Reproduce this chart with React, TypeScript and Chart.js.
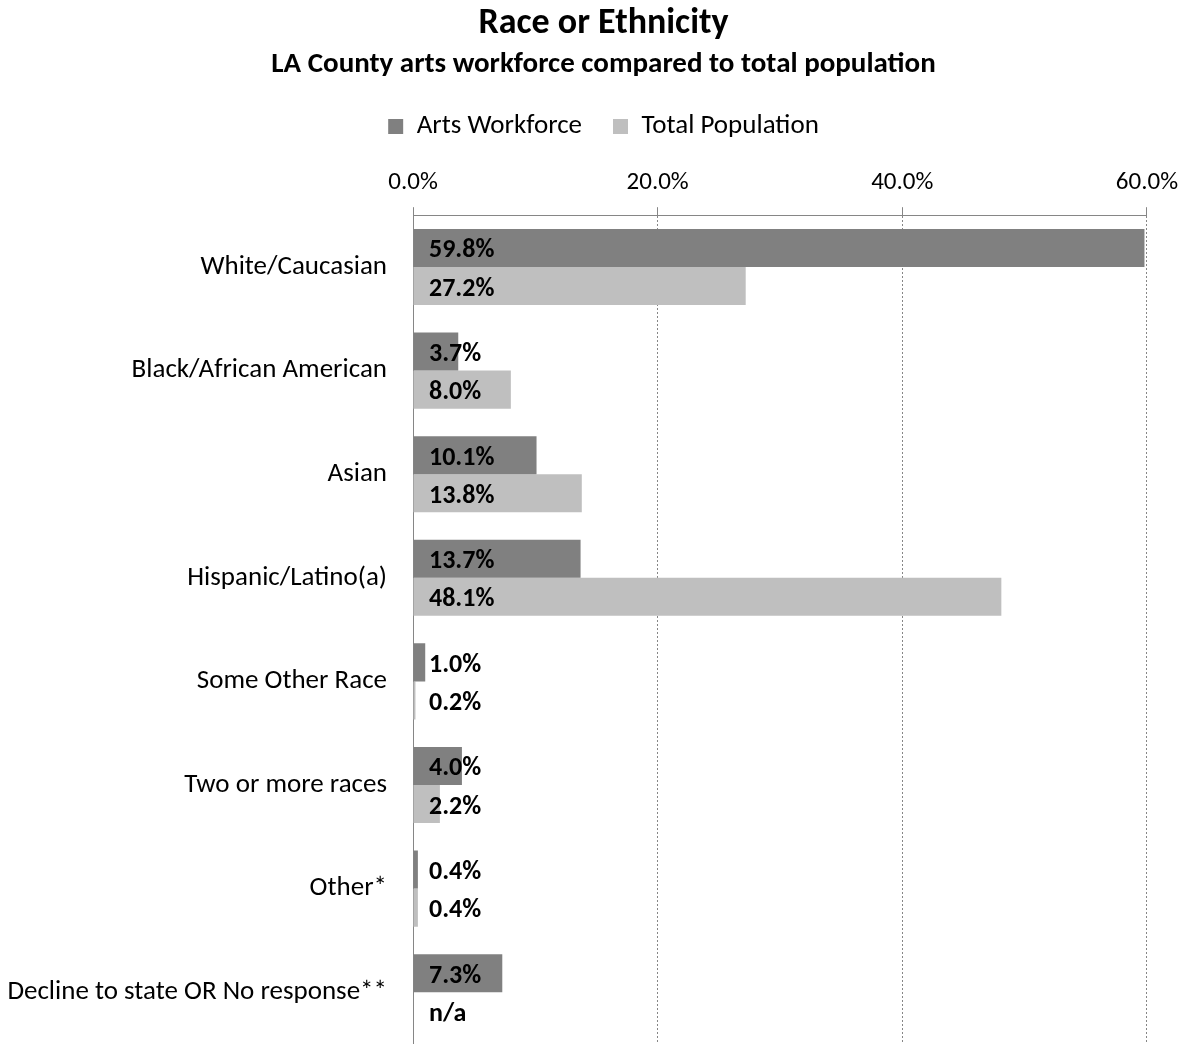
import React, { useEffect, useRef } from "react";
import { Chart, registerables } from "chart.js";

Chart.register(...registerables);

const categories = [
  "White/Caucasian",
  "Black/African American",
  "Asian",
  "Hispanic/Latino(a)",
  "Some Other Race",
  "Two or more races",
  "Other*",
  "Decline to state OR No response**",
];
const artsWorkforce = [59.8, 3.7, 10.1, 13.7, 1.0, 4.0, 0.4, 7.3];
const totalPopulation: (number | null)[] = [27.2, 8.0, 13.8, 48.1, 0.2, 2.2, 0.4, null];
const xTicks = [0, 20, 40, 60];

const FONT = "Carlito, Calibri, Lato, sans-serif";
const PAD_LEFT = 26;
const PLOT_LEFT = 413;

const labelPlugin = {
  id: "barLabels",
  afterDatasetsDraw(chart: any) {
    const ctx = chart.ctx;
    const xScale = chart.scales.x;
    const x0 = xScale.getPixelForValue(0);
    ctx.save();
    ctx.font = `bold 26px ${FONT}`;
    ctx.fillStyle = "#000";
    ctx.textAlign = "left";
    ctx.textBaseline = "middle";
    chart.data.datasets.forEach((ds: any, di: number) => {
      const meta = chart.getDatasetMeta(di);
      meta.data.forEach((bar: any, i: number) => {
        const v = ds.data[i];
        const txt = v == null ? "n/a" : `${v.toFixed(1)}%`;
        ctx.fillText(txt, x0 + 16, bar.y + 3);
      });
    });
    ctx.restore();
  },
};

export default function App() {
  const ref = useRef<HTMLCanvasElement>(null);
  useEffect(() => {
    document.body.style.margin = "0";
    const chart = new Chart(ref.current!, {
      type: "bar",
      data: {
        labels: categories,
        datasets: [
          {
            label: "Arts Workforce",
            data: artsWorkforce,
            backgroundColor: "#808080",
            categoryPercentage: 0.735,
            barPercentage: 1.0,
          },
          {
            label: "Total Population",
            data: totalPopulation,
            backgroundColor: "#BFBFBF",
            categoryPercentage: 0.735,
            barPercentage: 1.0,
          },
        ],
      },
      options: {
        indexAxis: "y",
        animation: false,
        responsive: false,
        layout: { padding: { left: PAD_LEFT, right: 6, top: 0, bottom: 0 } },
        plugins: {
          title: {
            display: true,
            text: "Race or Ethnicity",
            color: "#000",
            font: { family: FONT, size: 36, weight: "bold" },
            padding: { top: 2, bottom: 0 },
          },
          subtitle: {
            display: true,
            text: "LA County arts workforce compared to total population",
            color: "#000",
            font: { family: FONT, size: 29, weight: "bold" },
            padding: { top: 2, bottom: 0 },
          },
          legend: {
            display: true,
            position: "top",
            labels: {
              color: "#000",
              font: { family: FONT, size: 27 },
              boxWidth: 15,
              boxHeight: 15,
              padding: 31,
            },
          },
          tooltip: { enabled: false },
        },
        scales: {
          x: {
            position: "top",
            min: 0,
            max: 60,
            afterBuildTicks: (axis: any) => {
              axis.ticks = xTicks.map((v) => ({ value: v }));
            },
            ticks: {
              color: "#000",
              font: { family: FONT, size: 25 },
              padding: 9,
              callback: (v: any) => `${Number(v).toFixed(1)}%`,
            },
            grid: {
              color: "#868686",
              lineWidth: 1,
              tickLength: 8,
              tickColor: "#868686",
              tickBorderDash: [],
            },
            border: { display: true, color: "#868686", dash: [2, 2] },
            title: {
              display: true,
              text: "",
              font: { size: 1 },
              padding: { top: 0, bottom: 8 },
            },
          },
          y: {
            ticks: {
              color: "#000",
              font: { family: FONT, size: 27 },
              padding: 26,
            },
            grid: { display: false, drawTicks: false },
            border: { display: true, color: "#868686" },
            afterFit: (axis: any) => {
              axis.paddingTop = 0;
              axis.paddingBottom = 0;
              axis.width = PLOT_LEFT - PAD_LEFT;
              axis._computeLabelArea = () => undefined;
            },
          },
        },
      },
      plugins: [labelPlugin],
    });
    return () => chart.destroy();
  }, []);
  return (
    <div style={{ width: 1187, height: 1044 }}>
      <canvas ref={ref} width={1187} height={1044} />
    </div>
  );
}
